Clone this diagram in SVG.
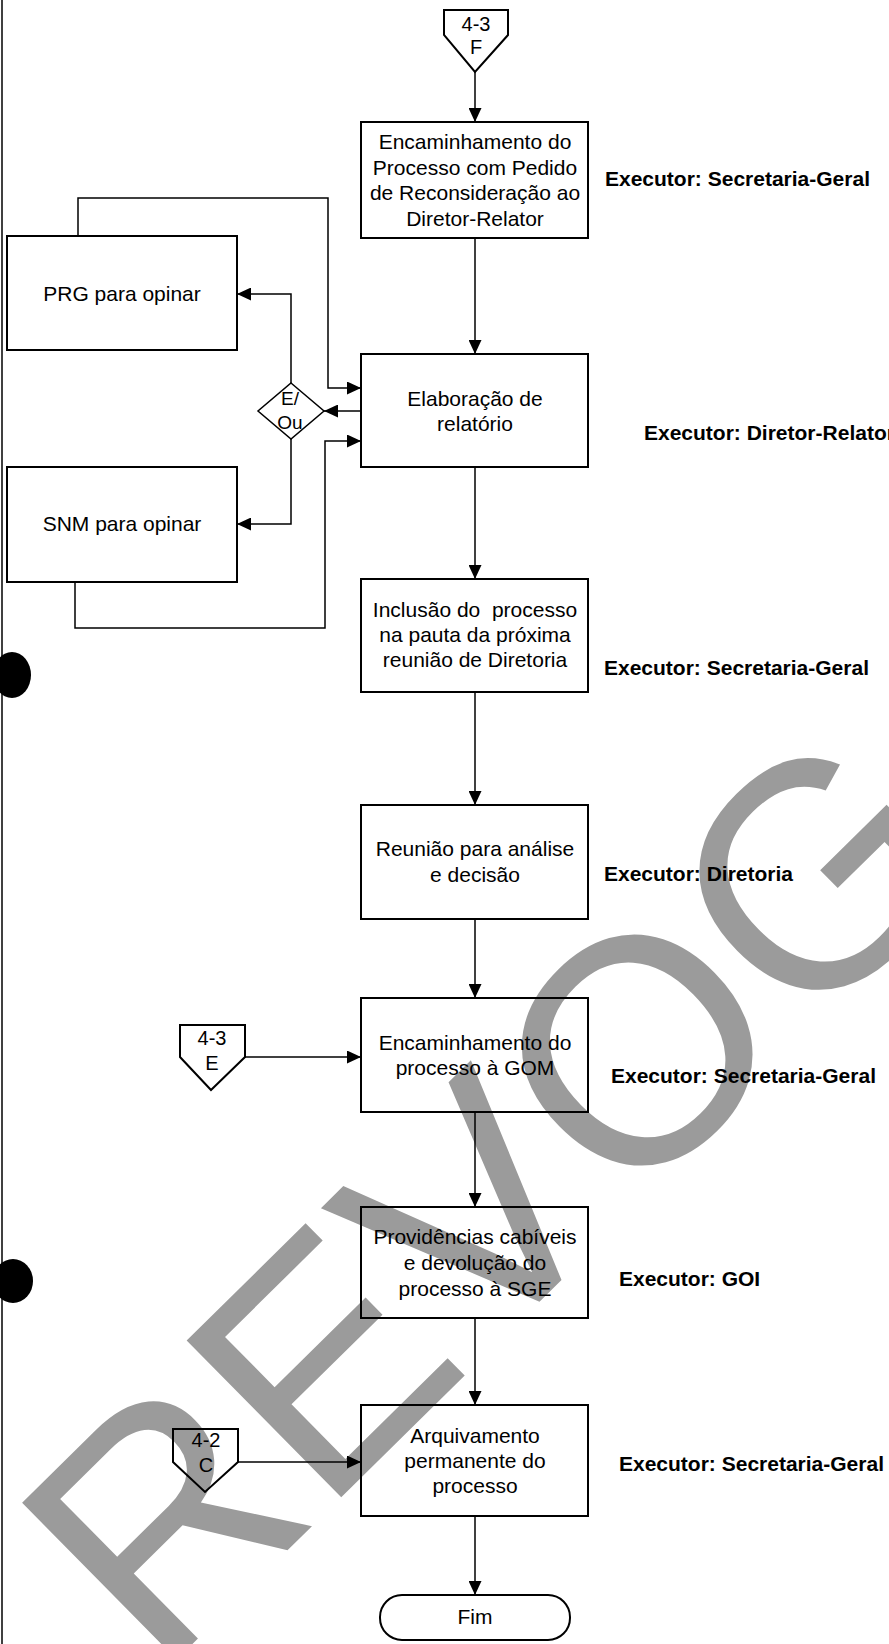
<svg xmlns="http://www.w3.org/2000/svg" width="889" height="1644" viewBox="0 0 889 1644">
<style>
.box{fill:none;stroke:#000;stroke-width:2}
.ln{fill:none;stroke:#000;stroke-width:1.5}
.t{font-family:"Liberation Sans",Arial,sans-serif;font-size:21px;fill:#000;text-anchor:middle}
.ex{font-family:"Liberation Sans",Arial,sans-serif;font-size:21px;font-weight:bold;fill:#000}
.c{font-family:"Liberation Sans",Arial,sans-serif;font-size:20px;fill:#000;text-anchor:middle}
.wm{font-family:"Liberation Sans",Arial,sans-serif;font-size:320px;fill:#9b9b9b}
</style>
<defs>
<marker id="ah" markerWidth="14" markerHeight="13" refX="14" refY="6.5" orient="auto" markerUnits="userSpaceOnUse">
<path d="M0,0 L14,6.5 L0,13 Z" fill="#000"/>
</marker>
</defs>
<rect x="0" y="0" width="889" height="1644" fill="#fff"/>
<g id="watermark">
<text class="wm" x="158" y="1678" transform="rotate(-44.6 158 1678)">REVOGADO</text>
</g>
<g id="page-marks">
<line x1="2" y1="0" x2="2" y2="1644" stroke="#000" stroke-width="1.5"/>
<ellipse cx="12" cy="675" rx="19" ry="23" fill="#000"/>
<ellipse cx="13" cy="1281" rx="20" ry="22" fill="#000"/>
</g>
<g id="connectors">
<line class="ln" x1="475" y1="72" x2="475" y2="122" marker-end="url(#ah)"/>
<line class="ln" x1="475" y1="238" x2="475" y2="354" marker-end="url(#ah)"/>
<polyline class="ln" points="78,236 78,198 328,198 328,388 361,388" marker-end="url(#ah)"/>
<line class="ln" x1="361" y1="411" x2="324" y2="411" marker-end="url(#ah)"/>
<polyline class="ln" points="291,383 291,294 237,294" marker-end="url(#ah)"/>
<polyline class="ln" points="291,439 291,524 237,524" marker-end="url(#ah)"/>
<polyline class="ln" points="75,582 75,628 325,628 325,441 361,441" marker-end="url(#ah)"/>
<line class="ln" x1="475" y1="467" x2="475" y2="579" marker-end="url(#ah)"/>
<line class="ln" x1="475" y1="692" x2="475" y2="805" marker-end="url(#ah)"/>
<line class="ln" x1="475" y1="919" x2="475" y2="998" marker-end="url(#ah)"/>
<line class="ln" x1="245" y1="1057" x2="361" y2="1057" marker-end="url(#ah)"/>
<line class="ln" x1="475" y1="1112" x2="475" y2="1207" marker-end="url(#ah)"/>
<line class="ln" x1="475" y1="1318" x2="475" y2="1405" marker-end="url(#ah)"/>
<line class="ln" x1="238" y1="1462" x2="361" y2="1462" marker-end="url(#ah)"/>
<line class="ln" x1="475" y1="1516" x2="475" y2="1595" marker-end="url(#ah)"/>
</g>
<g id="conn-4-3-F">
<path class="box" d="M444,10 L508,10 L508,35 L475,72 L444,35 Z"/>
<text class="c" x="476" y="31">4-3</text>
<text class="c" x="476" y="54">F</text>
</g>
<g id="n-encaminhamento-pedido">
<rect class="box" x="361" y="122" width="227" height="116"/>
<text class="t" x="475" y="149">Encaminhamento do</text>
<text class="t" x="475" y="174.5">Processo com Pedido</text>
<text class="t" x="475" y="200">de Reconsideração ao</text>
<text class="t" x="475" y="225.5">Diretor-Relator</text>
<text class="ex" x="605" y="185.5">Executor: Secretaria-Geral</text>
</g>
<g id="n-prg">
<rect class="box" x="7" y="236" width="230" height="114"/>
<text class="t" x="122" y="301">PRG para opinar</text>
</g>
<g id="n-eou">
<path class="box" d="M291,383 L324,411 L291,439 L258,411 Z" style="stroke-width:1.5"/>
<text class="t" x="290" y="405" style="font-size:19px">E/</text>
<text class="t" x="290" y="429" style="font-size:19px">Ou</text>
</g>
<g id="n-elaboracao">
<rect class="box" x="361" y="354" width="227" height="113"/>
<text class="t" x="475" y="405.5">Elaboração de</text>
<text class="t" x="475" y="431">relatório</text>
<text class="ex" x="644" y="439.5">Executor: Diretor-Relator</text>
</g>
<g id="n-snm">
<rect class="box" x="7" y="467" width="230" height="115"/>
<text class="t" x="122" y="531">SNM para opinar</text>
</g>
<g id="n-inclusao">
<rect class="box" x="361" y="579" width="227" height="113"/>
<text class="t" x="475" y="617" xml:space="preserve">Inclusão do  processo</text>
<text class="t" x="475" y="642">na pauta da próxima</text>
<text class="t" x="475" y="667">reunião de Diretoria</text>
<text class="ex" x="604" y="674.5">Executor: Secretaria-Geral</text>
</g>
<g id="n-reuniao">
<rect class="box" x="361" y="805" width="227" height="114"/>
<text class="t" x="475" y="856">Reunião para análise</text>
<text class="t" x="475" y="882">e decisão</text>
<text class="ex" x="604" y="880.5">Executor: Diretoria</text>
</g>
<g id="conn-4-3-E">
<path class="box" d="M180,1025 L245,1025 L245,1057 L211,1090 L180,1057 Z"/>
<text class="c" x="212" y="1045">4-3</text>
<text class="c" x="212" y="1070">E</text>
</g>
<g id="n-encaminhamento-gom">
<rect class="box" x="361" y="998" width="227" height="114"/>
<text class="t" x="475" y="1050">Encaminhamento do</text>
<text class="t" x="475" y="1075">processo à GOM</text>
<text class="ex" x="611" y="1082.5">Executor: Secretaria-Geral</text>
</g>
<g id="n-providencias">
<rect class="box" x="361" y="1207" width="227" height="111"/>
<text class="t" x="475" y="1244">Providências cabíveis</text>
<text class="t" x="475" y="1270">e devolução do</text>
<text class="t" x="475" y="1296">processo à SGE</text>
<text class="ex" x="619" y="1285.5">Executor: GOI</text>
</g>
<g id="conn-4-2-C">
<path class="box" d="M173,1429 L238,1429 L238,1462 L205,1492 L173,1462 Z"/>
<text class="c" x="206" y="1447">4-2</text>
<text class="c" x="206" y="1472">C</text>
</g>
<g id="n-arquivamento">
<rect class="box" x="361" y="1405" width="227" height="111"/>
<text class="t" x="475" y="1443">Arquivamento</text>
<text class="t" x="475" y="1468">permanente do</text>
<text class="t" x="475" y="1493">processo</text>
<text class="ex" x="619" y="1470.5">Executor: Secretaria-Geral</text>
</g>
<g id="n-fim">
<rect class="box" x="380" y="1595" width="190" height="45" rx="22" ry="22"/>
<text class="t" x="475" y="1624">Fim</text>
</g>
</svg>
